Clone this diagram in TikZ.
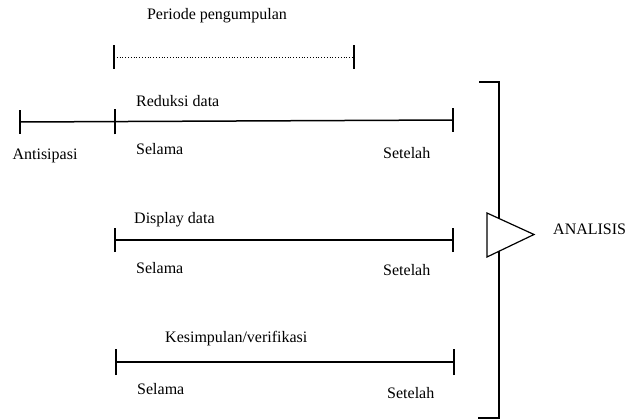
\documentclass[tikz,border=0pt]{standalone}
\usepackage{fontspec}
\setmainfont{Liberation Serif}
\begin{document}
\begin{tikzpicture}[x=1pt,y=-1pt,
  lbl/.style={font=\fontsize{16}{18}\selectfont, inner sep=0pt, anchor=west},
  tl/.style={line width=1.5pt},
  tk/.style={line width=1.5pt}]
\useasboundingbox (0,0) rectangle (625,420);
% top dotted
\node[lbl, anchor=center] (per) at (217,16) {Periode pengumpulan};
\coordinate (pa) at (114,57); \coordinate (pb) at (354,57);
\draw[dotted, line width=0.8pt] (pa) -- (pb);
\draw[tk] ([yshift=-12]pa) -- ([yshift=12]pa);
\draw[tk] ([yshift=-12]pb) -- ([yshift=12]pb);
% reduksi
\coordinate (r0) at (20,122); \coordinate (r1) at (115,121.5); \coordinate (r2) at (453,120);
\draw[tl] (r0) -- (r2);
\draw[tk] ([yshift=-12]r0) -- ([yshift=12]r0);
\draw[tk] ([yshift=-13]r1) -- ([yshift=12]r1);
\draw[tk] ([yshift=-12]r2) -- ([yshift=12]r2);
\node[lbl] (rl) at (136,101) {Reduksi data};
\node[lbl, anchor=center] (ant) at (45,156) {Antisipasi};
\node[lbl] (rs1) at (136,149) {Selama};
\node[lbl] (rs2) at (383,153) {Setelah};
% display
\coordinate (d1) at (115,240); \coordinate (d2) at (453,240);
\draw[tl] (d1) -- (d2);
\draw[tk] ([yshift=-12]d1) -- ([yshift=12]d1);
\draw[tk] ([yshift=-12]d2) -- ([yshift=12]d2);
\node[lbl] (dl) at (134,220) {Display data};
\node[lbl] (ds1) at (136,268) {Selama};
\node[lbl] (ds2) at (383,270) {Setelah};
% kesimpulan
\coordinate (k1) at (116,362); \coordinate (k2) at (454,362);
\draw[tl] (k1) -- (k2);
\draw[tk] ([yshift=-13]k1) -- ([yshift=13]k1);
\draw[tk] ([yshift=-13]k2) -- ([yshift=13]k2);
\node[lbl] (kl) at (165,339) {Kesimpulan/verifikasi};
\node[lbl] (ks1) at (137,389) {Selama};
\node[lbl] (ks2) at (387,393) {Setelah};
% bracket
\coordinate (bt) at (499,82); \coordinate (bb) at (499,418);
\draw[line width=1.8pt] (479,82) -- (bt) -- (bb) -- (478,418);
% triangle
\draw[line width=1.2pt, fill=white] (487,213) -- (534,234.5) -- (487,257) -- cycle;
\node[lbl] (an) at (553,229) {ANALISIS};
\end{tikzpicture}
\end{document}
